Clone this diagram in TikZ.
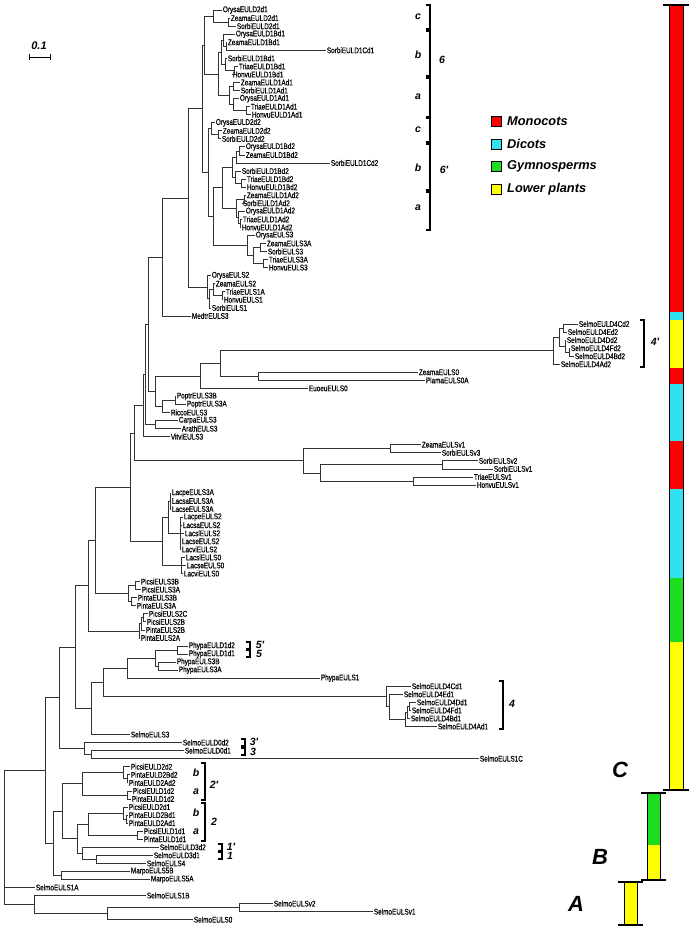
\documentclass[tikz,border=0pt]{standalone}
\usepackage{fontspec}
\setmainfont{Liberation Sans}
\newfontfamily\lfont[FakeStretch=0.78,FakeBold=0.5]{Liberation Sans}
\usetikzlibrary{calc}
\definecolor{mred}{RGB}{255,0,0}
\definecolor{mcyan}{RGB}{50,225,240}
\definecolor{mgreen}{RGB}{30,220,30}
\definecolor{myellow}{RGB}{255,255,0}
\tikzset{
  lf/.style={anchor=west, inner sep=0.7pt, font=\lfont\fontsize{8.2}{9}\selectfont},
  br/.style={line width=0.7pt, draw=black!80},
  bk/.style={line width=1.2pt, draw=black},
  bl/.style={font=\bfseries\itshape\fontsize{10.5}{12}\selectfont, inner sep=0pt},
  big/.style={font=\bfseries\itshape\fontsize{22}{24}\selectfont, inner sep=0pt},
  lg/.style={font=\bfseries\itshape\fontsize{12.8}{14}\selectfont, inner sep=0pt, anchor=west},
}
\newcommand\Lf[4]{\node[lf] (#1) at (#2,{10+8.05*(#3-1)}) {#4};}
\newcommand\In[4]{\path let \p1=(#3), \p2=(#4) in coordinate (#1) at (#2pt,{0.5*\y1+0.5*\y2}); \draw[br] (#1) |- (#3); \draw[br] (#1) |- (#4);}
\newcommand\Ex[2]{\draw[br] (#1) |- (#2);}
\newcommand\Brk[3]{\draw[bk] ({#1-4},#2) -- (#1,#2) -- (#1,#3) -- ({#1-4},#3);}
\begin{document}
\begin{tikzpicture}[x=1pt,y=-1pt]
\useasboundingbox (0,0) rectangle (691,928);
% ---------- clade 6
\Lf{a1}{222}{1}{OrysaEULD2d1}
\Lf{a2}{230}{2}{ZeamaEULD2d1}
\Lf{a3}{236}{3}{SorbiEULD2d1}
\Lf{a4}{235}{4}{OrysaEULD1Bd1}
\Lf{a5}{227}{5}{ZeamaEULD1Bd1}
\Lf{a6}{326}{6}{SorbiEULD1Cd1}
\Lf{a7}{227}{7}{SorbiEULD1Bd1}
\Lf{a8}{238}{8}{TriaeEULD1Bd1}
\Lf{a9}{232}{9}{HonvuEULD1Bd1}
\Lf{a10}{240}{10}{ZeamaEULD1Ad1}
\Lf{a11}{240}{11}{SorbiEULD1Ad1}
\Lf{a12}{239}{12}{OrysaEULD1Ad1}
\Lf{a13}{250}{13}{TriaeEULD1Ad1}
\Lf{a14}{251}{14}{HonvuEULD1Ad1}
\In{na1}{228}{a2}{a3}
\In{na2}{213}{a1}{na1}
\In{nb1}{226}{a5}{a6}
\In{nb2}{223}{a4}{nb1}
\In{nb3}{234}{a8}{a9}
\In{nb4}{225}{a7}{nb3}
\In{nB}{221}{nb2}{nb4}
\In{nc1}{233}{a10}{a11}
\In{nc2}{246}{a13}{a14}
\In{nc3}{233}{a12}{nc2}
\In{nA}{229}{nc1}{nc3}
\In{nD1}{218}{nB}{nA}
\In{n6}{204}{na2}{nD1}
% ---------- clade 6'
\Lf{b1}{215}{15}{OrysaEULD2d2}
\Lf{b2}{222}{16}{ZeamaEULD2d2}
\Lf{b3}{221}{17}{SorbiEULD2d2}
\Lf{b4}{245}{18}{OrysaEULD1Bd2}
\Lf{b5}{245}{19}{ZeamaEULD1Bd2}
\Lf{b6}{330}{20}{SorbiEULD1Cd2}
\Lf{b7}{241}{21}{SorbiEULD1Bd2}
\Lf{b8}{246}{22}{TriaeEULD1Bd2}
\Lf{b9}{246}{23}{HonvuEULD1Bd2}
\Lf{b10}{246}{24}{ZeamaEULD1Ad2}
\Lf{b11}{242}{25}{SorbiEULD1Ad2}
\Lf{b12}{245}{26}{OrysaEULD1Ad2}
\Lf{b13}{242}{27}{TriaeEULD1Ad2}
\Lf{b14}{241}{28}{HonvuEULD1Ad2}
\In{nd1}{218}{b2}{b3}
\In{nd2}{211}{b1}{nd1}
\In{ne1}{239}{b4}{b5}
\In{ne2}{236}{ne1}{b6}
\In{ne3}{241}{b8}{b9}
\In{ne4}{235}{b7}{ne3}
\In{nE}{232}{ne2}{ne4}
\In{nf1}{244}{b10}{b11}
\In{nf2}{240}{b13}{b14}
\In{nf3}{238}{b12}{nf2}
\In{nF}{236}{nf1}{nf3}
\In{nDp}{222}{nE}{nF}
% ---------- EULS3 / EULS2 monocots
\Lf{c1}{255}{29}{OrysaEULS3}
\Lf{c2}{266}{30}{ZeamaEULS3A}
\Lf{c3}{267}{31}{SorbiEULS3}
\Lf{c4}{268}{32}{TriaeEULS3A}
\Lf{c5}{268}{33}{HonvuEULS3}
\In{ng1}{260}{c2}{c3}
\In{ng2}{263}{c4}{c5}
\In{ng3}{253}{ng1}{ng2}
\In{nG}{247}{c1}{ng3}
\In{nWm}{213}{nDp}{nG}
\In{n6p}{208}{nd2}{nWm}
\In{n66}{202}{n6}{n6p}
\Lf{d1}{211}{34}{OrysaEULS2}
\Lf{d2}{215}{35}{ZeamaEULS2}
\Lf{d3}{225}{36}{TriaeEULS1A}
\Lf{d4}{223}{37}{HonvuEULS1}
\Lf{d5}{211}{38}{SorbiEULS1}
\In{nh1}{222}{d3}{d4}
\In{nh2}{213}{d2}{nh1}
\In{nh3}{209}{nh2}{d5}
\In{nH}{207}{d1}{nh3}
\In{nmono}{188}{n66}{nH}
\Lf{e1}{191}{39}{MedtrEULS3}
\In{nmono2}{162}{nmono}{e1}
% ---------- 4' and dicots
\Lf{f1}{578}{40}{SelmoEULD4Cd2}
\Lf{f2}{567}{41}{SelmoEULD4Ed2}
\Lf{f3}{566}{42}{SelmoEULD4Dd2}
\Lf{f4}{570}{43}{SelmoEULD4Fd2}
\Lf{f5}{574}{44}{SelmoEULD4Bd2}
\Lf{f6}{560}{45}{SelmoEULD4Ad2}
\In{ni1}{563}{f1}{f2}
\In{ni2}{569}{f4}{f5}
\In{ni3}{565}{f3}{ni2}
\In{ni4}{559}{ni1}{ni3}
\In{nI}{553}{ni4}{f6}
\Lf{f7}{418}{46}{ZeamaEULS0}
\Lf{f8}{425}{47}{PlamaEULS0A}
\In{nj1}{258}{f7}{f8}
\In{nj2}{220}{nI}{nj1}
\Lf{f9}{308}{48}{EuoeuEULS0}
\In{nj3}{200}{nj2}{f9}
\Lf{g1}{176}{49}{PoptrEULS3B}
\Lf{g2}{186}{50}{PoptrEULS3A}
\Lf{g3}{170}{51}{RiccoEULS3}
\In{nk1}{175}{g1}{g2}
\In{nk2}{162}{nk1}{g3}
\In{nk3}{155}{nj3}{nk2}
\Lf{g4}{178}{52}{CarpaEULS3}
\Lf{g5}{181}{53}{ArathEULS3}
\Lf{g6}{170}{54}{VitviEULS3}
\In{nk4}{155}{g4}{g5}
\In{nk5}{148}{nmono2}{nk3}
\In{nk6}{145}{nk5}{nk4}
\In{nk7}{143}{nk6}{g6}
% ---------- Sv
\Lf{h1}{421}{55}{ZeamaEULSv1}
\Lf{h2}{441}{56}{SorbiEULSv3}
\Lf{h3}{478}{57}{SorbiEULSv2}
\Lf{h4}{493}{58}{SorbiEULSv1}
\Lf{h5}{473}{59}{TriaeEULSv1}
\Lf{h6}{476}{60}{HonvuEULSv1}
\In{nl1}{390}{h1}{h2}
\In{nl2}{442}{h3}{h4}
\In{nl3}{413}{h5}{h6}
\In{nl4}{320}{nl2}{nl3}
\In{nL}{303}{nl1}{nl4}
\In{nk8}{134}{nk7}{nL}
% ---------- Lactuca
\Lf{m1}{171}{61}{LacpeEULS3A}
\Lf{m2}{171}{62}{LacsaEULS3A}
\Lf{m3}{171}{63}{LacseEULS3A}
\Lf{m4}{183}{64}{LacpeEULS2}
\Lf{m5}{182}{65}{LacsaEULS2}
\Lf{m6}{184}{66}{LacslEULS2}
\Lf{m7}{181}{67}{LacseEULS2}
\Lf{m8}{181}{68}{LacviEULS2}
\Lf{m9}{185}{69}{LacslEULS0}
\Lf{m10}{186}{70}{LacseEULS0}
\Lf{m11}{183}{71}{LacviEULS0}
\In{nm1}{170}{m1}{m3}\Ex{nm1}{m2}
\In{nm2}{180}{m4}{m8}\Ex{nm2}{m5}\Ex{nm2}{m6}\Ex{nm2}{m7}
\In{nm3}{168}{nm1}{nm2}
\In{nm4}{181}{m9}{m11}\Ex{nm4}{m10}
\In{nM}{162}{nm3}{nm4}
\In{nd5}{130}{nk8}{nM}
% ---------- Pinaceae EULS
\Lf{p1}{140}{72}{PicsiEULS3B}
\Lf{p2}{141}{73}{PicsiEULS3A}
\Lf{p3}{137}{74}{PintaEULS3B}
\Lf{p4}{136}{75}{PintaEULS3A}
\In{np1}{135}{p1}{p2}
\In{np2}{131}{p3}{p4}
\In{np3}{128}{np1}{np2}
\In{nq1}{95}{nd5}{np3}
\Lf{p5}{148}{76}{PicsiEULS2C}
\Lf{p6}{146}{77}{PicsiEULS2B}
\Lf{p7}{145}{78}{PintaEULS2B}
\Lf{p8}{140}{79}{PintaEULS2A}
\In{np4}{143}{p5}{p6}
\In{np5}{141}{np4}{p7}
\In{np6}{139}{np5}{p8}
\In{nq2}{88}{nq1}{np6}
% ---------- Physcomitrella
\Lf{r1}{188}{80}{PhypaEULD1d2}
\Lf{r2}{188}{81}{PhypaEULD1d1}
\Lf{r3}{176}{82}{PhypaEULS3B}
\Lf{r4}{178}{83}{PhypaEULS3A}
\Lf{r5}{320}{84}{PhypaEULS1}
\In{nr1}{177}{r1}{r2}
\In{nr2}{158}{r3}{r4}
\In{nr3}{155}{nr1}{nr2}
\In{nr4}{127}{nr3}{r5}
% ---------- Selaginella EULD4 d1
\Lf{s1}{411}{85}{SelmoEULD4Cd1}
\Lf{s2}{403}{86}{SelmoEULD4Ed1}
\Lf{s3}{416}{87}{SelmoEULD4Dd1}
\Lf{s4}{411}{88}{SelmoEULD4Fd1}
\Lf{s5}{410}{89}{SelmoEULD4Bd1}
\Lf{s6}{437}{90}{SelmoEULD4Ad1}
\In{ns2}{409}{s3}{s4}
\In{ns3}{407}{ns2}{s5}
\In{ns4}{405}{ns3}{s6}
\In{ns1}{389}{s2}{ns4}
\In{nS}{386}{s1}{ns1}
\In{nr5}{103}{nr4}{nS}
\Lf{s7}{130}{91}{SelmoEULS3}
\In{nr6}{91}{nr5}{s7}
\In{nq3}{75}{nq2}{nr6}
% ---------- EULD0
\Lf{t1}{182}{92}{SelmoEULD0d2}
\Lf{t2}{184}{93}{SelmoEULD0d1}
\Lf{t3}{479}{94}{SelmoEULS1C}
\In{nt1}{91}{t2}{t3}
\In{nt2}{84}{t1}{nt1}
\In{nq4}{59}{nq3}{nt2}
% ---------- clade 2'
\Lf{u1}{130}{95}{PicsiEULD2d2}
\Lf{u2}{130}{96}{PintaEULD2Bd2}
\Lf{u3}{128}{97}{PintaEULD2Ad2}
\Lf{u4}{132}{98}{PicsiEULD1d2}
\Lf{u5}{131}{99}{PintaEULD1d2}
\In{nu1}{127}{u2}{u3}
\In{nu2}{123}{u1}{nu1}
\In{nu3}{127}{u4}{u5}
\In{nU}{82}{nu2}{nu3}
% ---------- clade 2
\Lf{v1}{128}{100}{PicsiEULD2d1}
\Lf{v2}{128}{101}{PintaEULD2Bd1}
\Lf{v3}{128}{102}{PintaEULD2Ad1}
\Lf{v4}{143}{103}{PicsiEULD1d1}
\Lf{v5}{143}{104}{PintaEULD1d1}
\In{nv1}{126}{v2}{v3}
\In{nv2}{123}{v1}{nv1}
\In{nv3}{137}{v4}{v5}
\In{nV}{88}{nv2}{nv3}
% ---------- clade 1
\Lf{w1}{159}{105}{SelmoEULD3d2}
\Lf{w2}{153}{106}{SelmoEULD3d1}
\Lf{w3}{146}{107}{SelmoEULS4}
\In{nw1}{96}{w2}{w3}
\In{nw2}{82}{w1}{nw1}
\In{nx1}{77}{nV}{nw2}
\In{nx2}{62}{nU}{nx1}
\Lf{x1}{130}{108}{MarpoEULS5B}
\Lf{x2}{150}{109}{MarpoEULS5A}
\In{nx3}{61}{x1}{x2}
\In{nx4}{53}{nx2}{nx3}
\In{nx5}{45}{nq4}{nx4}
\Lf{y1}{35}{110}{SelmoEULS1A}
\Lf{y2}{146}{111}{SelmoEULS1B}
\Lf{y3}{273}{112}{SelmoEULSv2}
\Lf{y4}{373}{113}{SelmoEULSv1}
\Lf{y5}{193}{114}{SelmoEULS0}
\In{ny1}{239}{y3}{y4}
\In{ny2}{107}{ny1}{y5}
\In{ny3}{34}{y2}{ny2}
\In{nroot}{4}{nx5}{ny3}\Ex{nroot}{y1}
% ---------- scale bar
\node[bl, font=\bfseries\itshape\fontsize{11}{12}\selectfont] (sc) at (39,46) {0.1};
\coordinate (sb1) at (29,57); \coordinate (sb2) at (50,57);
\draw[line width=0.8pt] (sb1) -- (sb2);
\draw[line width=0.8pt] ($(sb1)+(0,-3)$) -- ($(sb1)+(0,3)$);
\draw[line width=0.8pt] ($(sb2)+(0,-3)$) -- ($(sb2)+(0,3)$);
% ---------- brackets
\Brk{430}{5}{29}
\Brk{430}{31}{76}
\Brk{430}{78}{117}
\node[bl] (lc1) at (418,17) {c};
\node[bl] (lb1) at (418,55) {b};
\node[bl] (la1) at (418,97) {a};
\node[bl] (l6) at (442,60) {6};
\Brk{430}{118}{142}
\Brk{430}{144}{190}
\Brk{430}{192}{230}
\node[bl] (lc2) at (418,130) {c};
\node[bl] (lb2) at (418,168) {b};
\node[bl] (la2) at (418,208) {a};
\node[bl] (l6p) at (444,170) {6′};
\Brk{644}{320}{367}
\node[bl] (l4p) at (655,342) {4′};
\Brk{503}{681}{729}
\node[bl] (l4) at (512,704) {4};
\Brk{250}{642}{649}\Brk{250}{650}{657}
\node[bl] (l5p) at (260,645) {5′};
\node[bl] (l5) at (259,654) {5};
\Brk{245}{739}{746}\Brk{245}{748}{755}
\node[bl] (l3p) at (254,742) {3′};
\node[bl] (l3) at (253,752) {3};
\Brk{205}{763}{800}
\node[bl] (lb3) at (196,773) {b};
\node[bl] (la3) at (196,792) {a};
\node[bl] (l2p) at (214,785) {2′};
\Brk{205}{803}{841}
\node[bl] (lb4) at (196,813) {b};
\node[bl] (la4) at (196,832) {a};
\node[bl] (l2) at (214,822) {2};
\Brk{222}{844}{851}\Brk{222}{852}{859}
\node[bl] (l1p) at (231,847) {1′};
\node[bl] (l1) at (230,856) {1};
% ---------- legend
\foreach \c/\t/\yy/\n in {mred/Monocots/121/lm, mcyan/Dicots/144/ld, mgreen/Gymnosperms/166/lgy, myellow/Lower plants/189/llp}{
  \draw[fill=\c, line width=0.8pt] (491,\yy-5) rectangle (501,\yy+5);
  \node[lg] (\n) at (507,\yy) {\t};
}
% ---------- colour bars
\foreach \a/\b/\c in {5/312/mred, 312/320/mcyan, 320/368/myellow, 368/384/mred, 384/441/mcyan, 441/489/mred, 489/578/mcyan, 578/642/mgreen, 642/790/myellow}{
  \fill[\c] (669,\a) rectangle (683,\b);
}
\draw[line width=1pt] (669,5) rectangle (683,790);
\draw[line width=1.2pt] (663,5) -- (689,5) (663,790) -- (689,790);
\node[big] (lC) at (620,770) {C};
\fill[mgreen] (647,793) rectangle (660,845);
\fill[myellow] (647,845) rectangle (660,880);
\draw[line width=1pt] (647,793) rectangle (660,880);
\draw[line width=1.2pt] (641,793) -- (666,793) (641,880) -- (666,880);
\node[big] (lB) at (600,857) {B};
\fill[myellow] (624,882) rectangle (637,925);
\draw[line width=1pt] (624,882) rectangle (637,925);
\draw[line width=1.2pt] (618,882) -- (643,882) (618,925) -- (643,925);
\node[big] (lA) at (576,904) {A};
\end{tikzpicture}
\end{document}
